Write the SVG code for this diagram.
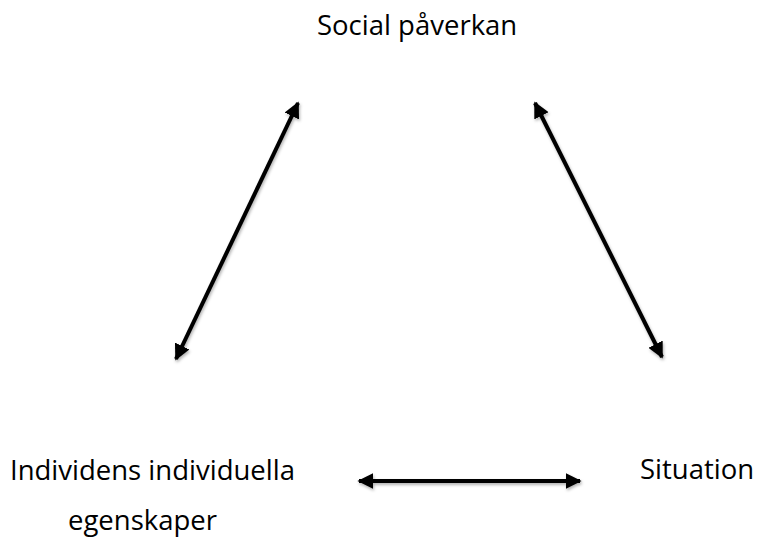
<svg xmlns="http://www.w3.org/2000/svg" width="757" height="542" viewBox="0 0 757 542">
<style>
text{font-family:"Open Sans","Noto Sans",sans-serif;font-size:27.5px;fill:#000}
.c{stroke:#000;stroke-width:4;fill:none;marker-start:url(#ah);marker-end:url(#ah)}
</style>
<defs>
<marker id="ah" viewBox="0 0 10 10" refX="9" refY="5" markerWidth="4" markerHeight="4" orient="auto-start-reverse" markerUnits="strokeWidth">
<path d="M0,0L10,5L0,10Z" fill="#000"/>
</marker>
<filter id="sh" x="-20%" y="-20%" width="140%" height="140%">
<feDropShadow dx="1" dy="2" stdDeviation="1.5" flood-color="#000" flood-opacity="0.3"/>
</filter>
</defs>
<rect width="757" height="542" fill="#fff"/>
<g id="connectors" filter="url(#sh)">
<line class="c" x1="176" y1="359" x2="298" y2="103"/>
<line class="c" x1="535" y1="103" x2="662" y2="357"/>
<line class="c" x1="359" y1="481" x2="580" y2="481"/>
</g>
<g id="social"><text x="317" y="35">Social påverkan</text></g>
<g id="individ"><text x="10" y="480">Individens individuella</text><text x="68" y="530">egenskaper</text></g>
<g id="situation"><text x="640" y="479">Situation</text></g>
</svg>
